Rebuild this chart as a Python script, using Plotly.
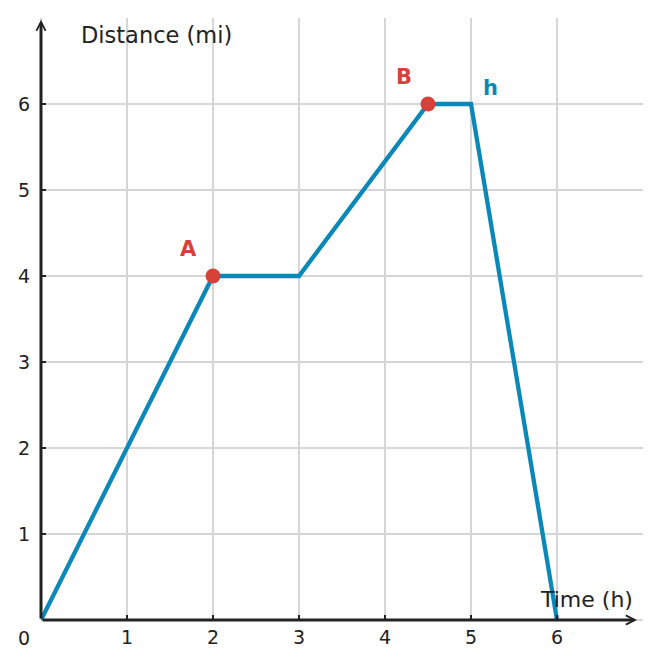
import plotly.graph_objects as go

# route of the trip
time_h = [0, 2, 3, 4.5, 5, 6]
dist_mi = [0, 4, 4, 6, 6, 0]

# highlighted points
pt_names = ["A", "B"]
pt_time = [2, 4.5]
pt_dist = [4, 6]

tick_vals = [1, 2, 3, 4, 5, 6]
tick_text = ["1", "2", "3", "4", "5", "6"]

BLUE = "#0a88b8"
RED = "#d8403a"
INK = "#222222"
GRID = "#d6d6d6"
FONT = "DejaVu Sans"

fig = go.Figure()

fig.add_trace(go.Scatter(
    x=time_h, y=dist_mi,
    mode="lines",
    line=dict(color=BLUE, width=4.3),
    showlegend=False,
    hoverinfo="skip",
))

fig.add_trace(go.Scatter(
    x=pt_time, y=pt_dist,
    mode="markers",
    marker=dict(color=RED, size=15),
    showlegend=False,
))

axis_style = dict(
    range=[0, 7],
    tickvals=tick_vals,
    ticktext=tick_text,
    showgrid=True,
    gridcolor=GRID,
    gridwidth=2,
    zeroline=True,
    zerolinecolor=GRID,
    zerolinewidth=2,
    showline=False,
    ticks="inside",
    ticklen=5,
    tickwidth=2,
    tickcolor=INK,
    tickfont=dict(family=FONT, size=19, color=INK),
    fixedrange=True,
)

fig.update_xaxes(**axis_style, ticklabelstandoff=4)
fig.update_yaxes(**axis_style, ticklabelstandoff=10)

# axes drawn as arrows
fig.add_annotation(x=6.93, y=0, ax=0, ay=0, xref="x", yref="y",
                   axref="x", ayref="y", text="", showarrow=True,
                   arrowhead=5, arrowsize=0.6, arrowwidth=3, arrowcolor=INK)
fig.add_annotation(x=0, y=6.98, ax=0, ay=0, xref="x", yref="y",
                   axref="x", ayref="y", text="", showarrow=True,
                   arrowhead=5, arrowsize=0.6, arrowwidth=3, arrowcolor=INK)

# labels
fig.add_annotation(x=0, y=0, text="0", showarrow=False, xshift=-17, yshift=-18,
                   font=dict(family=FONT, size=19, color=INK))
fig.add_annotation(x=0.44, y=6.80, text="Distance (mi)", showarrow=False,
                   xanchor="left", font=dict(family=FONT, size=22.5, color=INK))
fig.add_annotation(x=6.91, y=0.244, text="Time (h)", showarrow=False,
                   xanchor="right", font=dict(family=FONT, size=22, color=INK))

label_pos = [(1.72, 4.31), (4.22, 6.31)]
for name, (lx, ly) in zip(pt_names, label_pos):
    fig.add_annotation(x=lx, y=ly, text="<b>%s</b>" % name, showarrow=False,
                       font=dict(family=FONT, size=21, color=RED))
fig.add_annotation(x=5.23, y=6.19, text="<b>h</b>", showarrow=False,
                   font=dict(family=FONT, size=21, color=BLUE))

# page body keeps an 8px margin, so the plot box is shifted back by that
fig.update_layout(
    width=661, height=668,
    margin=dict(l=33, r=26, t=10, b=56),
    plot_bgcolor="white",
    paper_bgcolor="white",
    showlegend=False,
)

fig.write_html("out.html")
